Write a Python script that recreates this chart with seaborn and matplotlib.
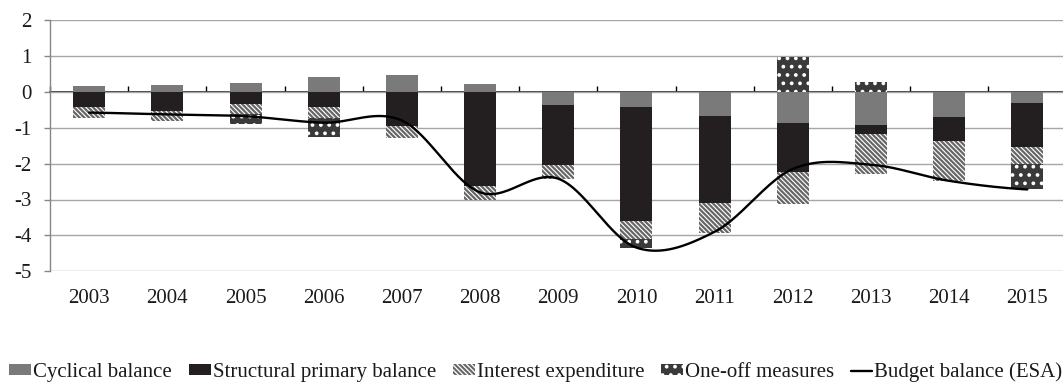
import numpy as np
import pandas as pd
import matplotlib
matplotlib.use("Agg")
import matplotlib.pyplot as plt
import seaborn as sns
from matplotlib.patches import Patch
from matplotlib.lines import Line2D

# Budget balance decomposition, % of GDP
years = ["2003", "2004", "2005", "2006", "2007", "2008", "2009",
         "2010", "2011", "2012", "2013", "2014", "2015"]
cyclical = [0.15, 0.18, 0.24, 0.41, 0.48, 0.22, -0.38, -0.43, -0.67, -0.87, -0.93, -0.71, -0.31]
structural = [-0.42, -0.54, -0.34, -0.43, -0.96, -2.63, -1.65, -3.16, -2.42, -1.37, -0.25, -0.66, -1.24]
interest = [-0.31, -0.26, -0.29, -0.30, -0.32, -0.37, -0.39, -0.52, -0.83, -0.89, -1.11, -1.11, -0.46]
one_off = [0.0, 0.0, -0.28, -0.54, 0.0, 0.0, 0.0, -0.23, 0.0, 0.96, 0.26, 0.0, -0.71]
budget = [-0.58, -0.63, -0.68, -0.86, -0.80, -2.80, -2.42, -4.34, -3.90, -2.15, -2.03, -2.48, -2.72]
y_ticks = [-5, -4, -3, -2, -1, 0, 1, 2]

labels = ["Cyclical balance", "Structural primary balance",
          "Interest expenditure", "One-off measures", "Budget balance (ESA)"]

sns.set_theme(style="white")
plt.rcParams["font.family"] = ["Liberation Serif", "DejaVu Serif"]
plt.rcParams["axes.unicode_minus"] = False

CYC = "#7a7a7a"
STRUCT = "#231f20"
HATCH_GREY = "#666666"
ONE_OFF = "#3a3a3a"

styles = [
    dict(color=CYC, edgecolor=CYC, hatch=None, hlw=1.0),
    dict(color=STRUCT, edgecolor=STRUCT, hatch=None, hlw=1.0),
    dict(color="white", edgecolor=HATCH_GREY, hatch="\\" * 7, hlw=1.6),
    dict(color=ONE_OFF, edgecolor="white", hatch="..", hlw=1.5),
]

df = pd.DataFrame({"year": years, "cyc": cyclical, "struct": structural,
                   "int": interest, "one": one_off})
cols = ["cyc", "struct", "int", "one"]
pos_cum = df[cols].clip(lower=0).cumsum(axis=1)
neg_cum = df[cols].clip(upper=0).cumsum(axis=1)

W, H = 1063, 385
fig = plt.figure(figsize=(W / 100, H / 100), dpi=100)
ax = fig.add_axes([50.1 / W, 1 - 271.3 / H, (1066.4 - 50.1) / W, (271.3 - 20) / H])

# stacked bars: draw outermost cumulative layer first, inner layers on top
for k in range(len(cols) - 1, -1, -1):
    st = styles[k]
    for cum in (pos_cum, neg_cum):
        with plt.rc_context({"hatch.linewidth": st["hlw"]}):
            sns.barplot(x=df["year"], y=cum[cols[k]], ax=ax, color=st["color"],
                        saturation=1, width=0.41, errorbar=None,
                        edgecolor=st["edgecolor"], linewidth=0,
                        hatch=st["hatch"], zorder=3)


def smooth(values, n=50):
    v = np.asarray(values, float)
    p = np.concatenate([[v[0]], v, [v[-1]]])
    xs, ys = [], []
    t = np.linspace(0, 1, n, endpoint=False)
    h00 = 2 * t**3 - 3 * t**2 + 1
    h10 = t**3 - 2 * t**2 + t
    h01 = -2 * t**3 + 3 * t**2
    h11 = t**3 - t**2
    for i in range(len(v) - 1):
        p0, p1, p2, p3 = p[i], p[i + 1], p[i + 2], p[i + 3]
        m1 = (p2 - p0) / 2
        m2 = (p3 - p1) / 2
        xs.append(i + t)
        ys.append(h00 * p1 + h10 * m1 + h01 * p2 + h11 * m2)
    xs.append([len(v) - 1])
    ys.append([v[-1]])
    return np.concatenate(xs), np.concatenate(ys)


sx, sy = smooth(budget)
sns.lineplot(x=sx, y=sy, ax=ax, color="black", linewidth=1.7, sort=False,
             estimator=None, zorder=5)

ax.set_xlim(-0.5, len(years) - 0.5)
ax.set_ylim(-5, 2)
ax.set_yticks(y_ticks)
ax.set_yticklabels([str(v) for v in y_ticks])
ax.set_xlabel("")
ax.set_ylabel("")
ax.yaxis.grid(True, color="#a6a6a6", linewidth=1.0, zorder=0)
ax.xaxis.grid(False)
ax.set_axisbelow(True)
for s in ("top", "right", "bottom"):
    ax.spines[s].set_visible(False)
ax.spines["left"].set_color("#868686")
ax.spines["left"].set_linewidth(1.0)
ax.tick_params(axis="y", which="major", direction="out", length=4.3, width=1.0,
               color="#868686", pad=9, labelsize=15, labelcolor="#1a1a1a", left=True)
ax.set_xticks(range(len(years)))
ax.set_xticklabels(years)
ax.tick_params(axis="x", length=0, pad=13, labelsize=15, labelcolor="#1a1a1a")

# category axis at zero with tick marks between categories
zero_frac = (0 - (-5)) / (2 - (-5))
sec = ax.secondary_xaxis(zero_frac)
sec.set_xticks(np.arange(-0.5, len(years) + 0.5, 1.0))
sec.set_xticklabels([])
sec.tick_params(axis="x", direction="out", length=4.3, width=1.0, color="black")
sec.spines["bottom"].set_color("black")
sec.spines["bottom"].set_linewidth(1.2)

handles = []
for st in styles:
    handles.append(Patch(facecolor=st["color"], edgecolor=st["edgecolor"],
                         hatch=st["hatch"], linewidth=0))
handles.append(Line2D([0], [0], color="black", linewidth=1.7))
with plt.rc_context({"hatch.linewidth": 1.5}):
    fig.legend(handles, labels, loc="center", bbox_to_anchor=(536 / W, 1 - 372 / H),
               ncol=5, frameon=False, fontsize=15, handlelength=1.05, handleheight=0.4,
               handletextpad=0.1, columnspacing=0.8, borderpad=0, borderaxespad=0,
               labelcolor="#1a1a1a")

fig.savefig("out.png", dpi=100)
